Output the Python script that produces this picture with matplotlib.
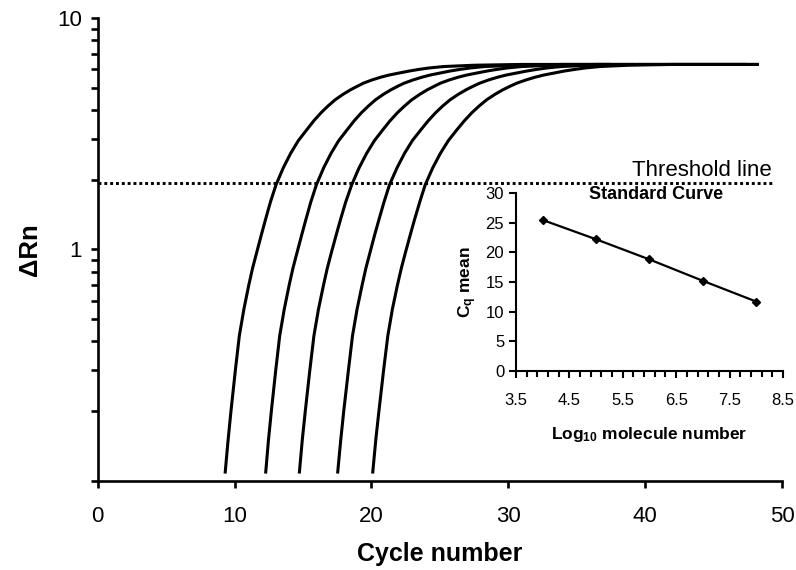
import matplotlib
matplotlib.use("Agg")
import matplotlib.pyplot as plt
from matplotlib.ticker import FixedLocator, NullFormatter, FixedFormatter

plt.rcParams['font.family'] = ['Liberation Sans', 'DejaVu Sans']
plt.rcParams['mathtext.fontset'] = 'custom'
plt.rcParams['mathtext.rm'] = 'Liberation Sans:bold'
plt.rcParams['mathtext.default'] = 'rm'

# amplification curves: cycle at which each curve reaches the given dRn level
drn_levels = [0.109, 0.15, 0.2, 0.3, 0.423, 0.55, 0.7, 0.83, 0.97, 1.15, 1.35, 1.6,
              1.9, 2.25, 2.6, 2.95, 3.29, 3.6, 3.9, 4.17, 4.43, 4.68, 4.9, 5.08,
              5.23, 5.4, 5.55, 5.67, 5.78, 5.9, 6.0, 6.09, 6.17, 6.25, 6.3, 6.3]
curve_1 = [9.32, 9.53, 9.74, 10.06, 10.35, 10.68, 11.04, 11.32, 11.62, 11.95, 12.27, 12.62,
           13.03, 13.56, 14.1, 14.66, 15.28, 15.8, 16.33, 16.84, 17.35, 17.93, 18.49, 19.0,
           19.42, 20.05, 20.69, 21.3, 22.0, 22.77, 23.5, 24.3, 25.3, 27.5, 31.0, 37.4]
curve_2 = [12.28, 12.48, 12.69, 13.01, 13.3, 13.63, 13.99, 14.27, 14.57, 14.9, 15.22, 15.57,
           15.98, 16.51, 17.05, 17.61, 18.23, 18.75, 19.28, 19.79, 20.3, 20.88, 21.44, 21.95,
           22.4, 23.05, 23.7, 24.3, 25.0, 25.75, 26.5, 27.3, 28.3, 30.5, 34.0, 39.1]
curve_3 = [14.74, 14.95, 15.17, 15.5, 15.8, 16.13, 16.5, 16.78, 17.08, 17.42, 17.75, 18.12,
           18.56, 19.1, 19.65, 20.22, 20.84, 21.37, 21.91, 22.43, 22.95, 23.54, 24.1, 24.62,
           25.05, 25.7, 26.35, 26.97, 27.68, 28.45, 29.2, 30.0, 31.0, 33.2, 36.5, 47.3]
curve_4 = [17.54, 17.76, 17.98, 18.32, 18.62, 18.95, 19.32, 19.6, 19.9, 20.23, 20.56, 20.92,
           21.32, 21.87, 22.42, 22.99, 23.62, 24.16, 24.7, 25.22, 25.75, 26.35, 26.93, 27.46,
           27.92, 28.57, 29.23, 29.86, 30.58, 31.36, 32.1, 32.9, 33.9, 36.0, 39.5, 48.2]
curve_5 = [20.10, 20.32, 20.55, 20.89, 21.2, 21.53, 21.9, 22.19, 22.49, 22.83, 23.16, 23.53,
           23.93, 24.48, 25.04, 25.62, 26.25, 26.8, 27.35, 27.88, 28.42, 29.03, 29.62, 30.16,
           30.63, 31.3, 31.97, 32.6, 33.33, 34.1, 34.9, 35.7, 36.7, 38.8, 42.0, 48.2]
threshold = 1.94

# standard curve (inset)
log_molecules = [4, 5, 6, 7, 8]
cq_mean = [25.45, 22.2, 18.8, 15.2, 11.7]

fig = plt.figure(figsize=(7.96, 5.70), dpi=100)
ax = fig.add_axes([0.1227, 0.1567, 0.8597, 0.8117])

for c in [curve_1, curve_2, curve_3, curve_4, curve_5]:
    ax.plot(c, drn_levels, color='black', lw=2.2, solid_joinstyle='round')

ax.plot([0, 49.4], [threshold, threshold], color='black', lw=2.1, linestyle=(0, (1, 1)))
ax.text(49.27, 2.07, 'Threshold line', ha='right', va='baseline', fontsize=16)

ax.set_yscale('log')
ax.set_xlim(0, 50)
ax.set_ylim(0.1, 10)
ax.set_xticks([0, 10, 20, 30, 40, 50])
ax.yaxis.set_major_locator(FixedLocator([0.1, 1, 10]))
ax.yaxis.set_major_formatter(FixedFormatter(['', '1', '10']))
ax.yaxis.set_minor_locator(FixedLocator([0.2, 0.3, 0.4, 0.5, 0.6, 0.7, 0.8, 0.9,
                                         2, 3, 4, 5, 6, 7, 8, 9]))
ax.yaxis.set_minor_formatter(NullFormatter())
ax.tick_params(which='both', direction='out', width=1.9, labelsize=16, colors='black', length=5)
ax.tick_params(axis='x', pad=13)
ax.tick_params(axis='y', pad=6.5)
for s in ['top', 'right']:
    ax.spines[s].set_visible(False)
for s in ['left', 'bottom']:
    ax.spines[s].set_linewidth(1.9)
ax.set_xlabel('Cycle number', fontsize=18, fontweight='bold', labelpad=11)
ax.set_ylabel('ΔRn', fontsize=18.5, fontweight='bold', labelpad=11)

# inset
ins = fig.add_axes([0.6482, 0.3491, 0.3354, 0.3123])
ins.patch.set_alpha(0)
ins.plot(log_molecules, cq_mean, color='black', lw=1.6, marker='D', markersize=4.5)
ins.set_xlim(3.5, 8.5)
ins.set_ylim(0, 30)
ins.set_xticks([3.5, 4.5, 5.5, 6.5, 7.5, 8.5])
ins.set_xticks([3.7, 3.9, 4.1, 4.3, 4.7, 4.9, 5.1, 5.3, 5.7, 5.9, 6.1, 6.3,
                6.7, 6.9, 7.1, 7.3, 7.7, 7.9, 8.1, 8.3], minor=True)
ins.set_yticks([0, 5, 10, 15, 20, 25, 30])
ins.tick_params(which='both', direction='out', width=1.5, labelsize=12)
ins.tick_params(which='major', length=5)
ins.tick_params(which='minor', length=4)
ins.tick_params(axis='x', pad=11)
for s in ['top', 'right']:
    ins.spines[s].set_visible(False)
for s in ['left', 'bottom']:
    ins.spines[s].set_linewidth(1.5)
ins.set_xlabel('Log$_{10}$ molecule number', fontsize=12.5, fontweight='bold', labelpad=12)
ins.set_ylabel('C$_{q}$ mean', fontsize=12.5, fontweight='bold', labelpad=5)
ins.text(0.524, 0.989, 'Standard Curve', transform=ins.transAxes, ha='center', va='center',
         fontsize=13, fontweight='bold')

fig.savefig('out.png', dpi=100)
